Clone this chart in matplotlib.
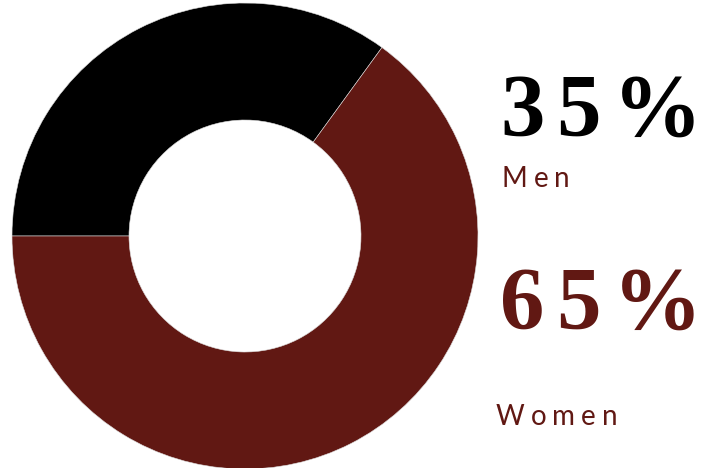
import matplotlib
matplotlib.use("Agg")
import matplotlib.pyplot as plt
from matplotlib import font_manager as fm

# Share of respondents by gender
labels = ["Men", "Women"]
shares = [35, 65]
colors = ["#000000", "#611813"]

W, H, DPI = 709, 468, 100
fig = plt.figure(figsize=(W / DPI, H / DPI), dpi=DPI)
ax = fig.add_axes([0, 0, 1, 1])

ax.pie(shares, colors=colors, startangle=180, counterclock=False,
       center=(245, H - 236), radius=233,
       wedgeprops=dict(width=117, edgecolor="#dddddd", linewidth=0.4))
ax.set_xlim(0, W)
ax.set_ylim(0, H)
ax.set_aspect("equal")
ax.axis("off")

renderer = fig.canvas.get_renderer()

num_prop = fm.FontProperties(
    fname=fm.findfont(fm.FontProperties(family="Liberation Serif", weight="bold")),
    size=64)
lab_prop = fm.FontProperties(
    fname=fm.findfont(fm.FontProperties(family="Lato")), size=20)


def spaced_text(x, y, s, spacing, prop, color):
    """Draw a string one glyph at a time with extra tracking (pixels)."""
    for ch in s:
        t = ax.text(x, y, ch, va="baseline", ha="left", fontproperties=prop, color=color)
        bb = t.get_window_extent(renderer=renderer)
        x += bb.width + spacing


spaced_text(500, H - 135, f"{shares[0]}%", 12, num_prop, colors[0])
spaced_text(502, H - 187, labels[0], 6, lab_prop, colors[1])
spaced_text(500, H - 328, f"{shares[1]}%", 12, num_prop, colors[1])
spaced_text(496, H - 425, labels[1], 6, lab_prop, colors[1])

fig.savefig("out.png", dpi=DPI)
